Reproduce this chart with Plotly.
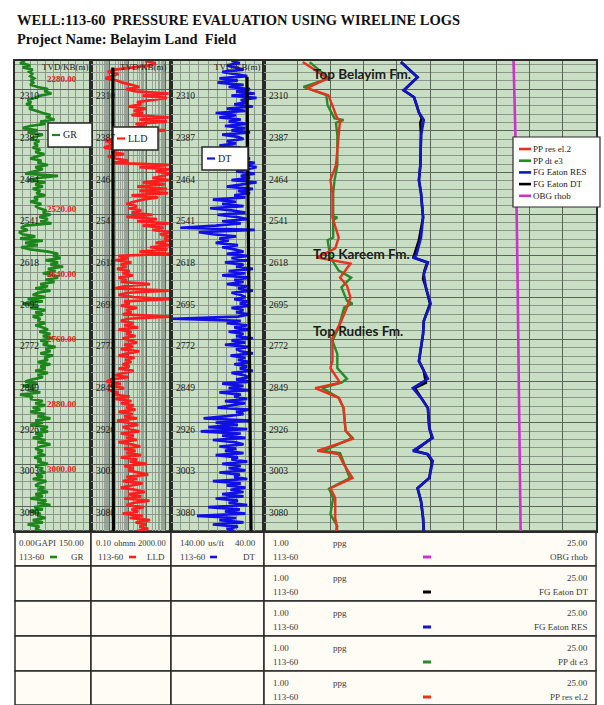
import numpy as np
import plotly.graph_objects as go

# ---------------- data ----------------
TOP, BASE = 2258.0, 3126.0
depth_labels = [2310, 2387, 2464, 2541, 2618, 2695, 2772, 2849, 2926, 3003, 3080]
tvd_marks = [2280, 2520, 2640, 2760, 2880, 3000]

# log samples every 4 m from 2258 m
log_depth = np.arange(218) * 4.0 + TOP

gr = [20, 10, 30, 15, 35, 28, 34, 30, 38, 32,
      36, 30, 45, 65, 58, 72, 50, 40, 25, 32,
      22, 35, 28, 40, 55, 70, 62, 78, 50, 60,
      30, 15, 45, 25, 55, 40, 30, 48, 38, 45,
      35, 50, 40, 58, 42, 30, 52, 45, 65, 40,
      55, 35, 20, 85, 45, 25, 60, 40, 55, 35,
      50, 42, 60, 38, 45, 30, 52, 40, 48, 62,
      55, 70, 48, 65, 50, 72, 20, 12, 25, 8,
      15, 40, 10, 55, 20, 45, 12, 30, 65, 85,
      75, 90, 60, 85, 70, 95, 65, 80, 55, 75,
      85, 60, 78, 50, 65, 40, 70, 45, 35, 60,
      25, 55, 15, 45, 30, 60, 40, 55, 35, 50,
      45, 60, 40, 55, 65, 48, 70, 55, 75, 50,
      65, 55, 80, 60, 70, 50, 75, 58, 65, 45,
      70, 50, 60, 40, 65, 45, 55, 35, 20, 45,
      15, 40, 25, 50, 10, 35, 30, 55, 40, 60,
      35, 50, 30, 60, 45, 70, 40, 55, 30, 65,
      50, 65, 40, 55, 35, 60, 45, 70, 50, 40,
      55, 45, 60, 38, 52, 45, 65, 40, 55, 48,
      60, 42, 55, 35, 62, 48, 40, 58, 45, 65,
      40, 55, 30, 62, 45, 70, 38, 55, 28, 50,
      45, 60, 35, 55, 25, 48, 40, 52]

lld = [80, 300, 150, 20, 2, 0.8, 3, 1.2, 0.6, 2.5,
       5, 15, 40, 8, 25, 1500, 60, 1200, 200, 30,
       50, 10, 90, 20, 60, 15, 1500, 40, 1200, 25,
       80, 12, 1000, 30, 8, 4, 1.5, 0.6, 2.5, 1,
       0.5, 3, 1.2, 6, 0.8, 2, 10, 1.5, 1500, 40,
       1600, 300, 1800, 800, 200, 1500, 60, 900, 30, 1200,
       40, 1400, 15, 400, 60, 20, 8, 30, 10, 50,
       15, 200, 8, 350, 30, 1500, 60, 800, 200, 1700,
       500, 1800, 900, 1600, 300, 1700, 150, 1300, 40, 1600,
       3, 10, 2, 15, 4, 8, 2.5, 12, 5, 18,
       3, 8, 4, 150, 6, 2, 1500, 10, 3, 20,
       1700, 6, 12, 4, 30, 8, 15, 5, 1800, 10,
       4, 20, 6, 35, 3, 15, 8, 25, 5, 12,
       30, 6, 18, 4, 40, 10, 3, 22, 7, 15,
       5, 12, 3, 20, 6, 2, 10, 1.2, 0.7, 4,
       1, 6, 0.8, 3, 1.5, 12, 2, 15, 4, 20,
       8, 25, 3, 18, 6, 30, 2.5, 10, 35, 5,
       12, 40, 4, 20, 8, 30, 3, 15, 45, 6,
       25, 8, 50, 4, 30, 12, 100, 6, 20, 10,
       40, 120, 8, 30, 5, 60, 15, 4, 25, 80,
       10, 50, 6, 140, 20, 8, 70, 15, 35, 5,
       60, 12, 150, 25, 90, 40, 120, 30]

dt = [75, 66, 80, 70, 62, 85, 72, 58, 88, 68,
      90, 62, 78, 55, 70, 50, 75, 48, 65, 58,
      72, 52, 80, 60, 92, 70, 88, 65, 78, 58,
      82, 60, 75, 55, 85, 68, 62, 80, 70, 88,
      65, 78, 60, 85, 72, 55, 68, 50, 62, 48,
      58, 70, 50, 65, 55, 75, 48, 62, 80, 52,
      68, 55, 72, 60, 95, 70, 85, 62, 98, 75,
      60, 90, 70, 58, 85, 65, 92, 130, 50, 110,
      95, 70, 88, 78, 92, 68, 85, 72, 62, 80,
      58, 75, 55, 82, 62, 70, 52, 78, 60, 85,
      55, 72, 62, 80, 58, 68, 52, 75, 65, 60,
      72, 58, 66, 55, 75, 62, 70, 56, 68, 138,
      65, 80, 58, 72, 55, 78, 62, 70, 52, 75,
      60, 82, 57, 70, 65, 52, 76, 60, 68, 55,
      72, 58, 66, 52, 75, 62, 56, 70, 54, 85,
      62, 78, 55, 88, 65, 72, 58, 82, 60, 75,
      90, 56, 70, 62, 80, 105, 55, 92, 68, 100,
      58, 108, 65, 85, 60, 95, 72, 62, 88, 70,
      82, 62, 92, 68, 75, 58, 85, 65, 78, 60,
      88, 66, 72, 58, 95, 65, 80, 60, 76, 62,
      85, 62, 92, 68, 78, 58, 100, 66, 82, 60,
      112, 70, 88, 62, 95, 68, 80, 72]

# normal compaction trends
nct_lld_depth = [2270, 3126]
nct_lld = [1.5, 1.6]
nct_dt_depth = [2287, 3126]
nct_dt = [58.3, 54.0]

# pressure profiles (ppg)
pp_res_depth = [2260, 2290, 2308, 2321, 2364, 2367, 2395, 2451, 2478, 2502, 2547, 2584, 2604,
                2621, 2632, 2658, 2673, 2695, 2719, 2743, 2769, 2812, 2825, 2852, 2862, 2880,
                2899, 2941, 2956, 2978, 2984, 3002, 3028, 3047, 3065, 3102, 3126]
pp_res = [3.8, 5.6, 4.1, 5.65, 6.3, 6.5, 6.4, 6.2, 5.8, 5.95, 5.95, 6.4, 6.15,
          4.85, 7.25, 6.5, 7.0, 7.25, 6.9, 6.5, 5.95, 5.95, 5.8, 6.5, 4.7, 6.4,
          6.75, 6.9, 7.4, 4.85, 6.4, 6.75, 7.4, 5.8, 6.15, 6.15, 6.3]

pp_dt_depth = [2260, 2290, 2306, 2321, 2340, 2364, 2367, 2372, 2395, 2451, 2478, 2502, 2545,
               2547, 2552, 2584, 2589, 2621, 2645, 2658, 2676, 2701, 2706, 2713, 2750, 2775,
               2799, 2825, 2845, 2852, 2862, 2880, 2899, 2941, 2954, 2978, 2982, 3002, 3028,
               3048, 3065, 3095, 3117, 3126]
pp_dt = [4.3, 5.7, 3.85, 5.5, 5.6, 6.1, 6.75, 6.2, 6.3, 6.3, 6.1, 6.0, 6.0,
         6.3, 6.0, 6.0, 5.6, 5.8, 6.4, 7.3, 6.6, 7.0, 7.4, 6.8, 6.4, 5.95,
         6.3, 6.3, 7.0, 6.6, 5.2, 6.4, 6.75, 6.9, 7.4, 5.3, 6.5, 6.8, 7.2,
         5.7, 6.0, 5.8, 6.3, 6.2]

fg_res_depth = [2260, 2288, 2312, 2325, 2353, 2367, 2395, 2451, 2478, 2502, 2547, 2584, 2617,
                2621, 2630, 2651, 2676, 2706, 2738, 2762, 2812, 2830, 2845, 2862, 2880, 2899,
                2936, 2954, 2978, 2984, 2997, 3028, 3047, 3071, 3102, 3126]
fg_res = [10.9, 12.1, 11.1, 11.85, 12.2, 12.55, 12.35, 12.3, 12.2, 12.35, 12.5, 12.35, 12.0,
          11.76, 12.85, 12.55, 12.7, 13.05, 12.55, 12.5, 12.2, 12.55, 12.85, 11.76, 12.35, 12.85,
          12.95, 13.2, 11.76, 12.85, 13.2, 12.95, 12.1, 12.35, 12.5, 12.55]

fg_dt_depth = [2260, 2288, 2312, 2325, 2353, 2364, 2372, 2395, 2451, 2478, 2502, 2547, 2589,
               2612, 2621, 2630, 2645, 2660, 2676, 2706, 2738, 2762, 2812, 2830, 2852, 2862,
               2880, 2899, 2936, 2954, 2978, 2984, 2997, 3028, 3047, 3071, 3102, 3126]
fg_dt = [10.9, 12.1, 11.1, 11.85, 12.2, 12.4, 12.3, 12.35, 12.3, 12.2, 12.35, 12.5, 12.2,
         11.9, 11.8, 12.8, 12.6, 12.5, 12.7, 13.0, 12.55, 12.5, 12.2, 12.55, 12.7, 11.9,
         12.35, 12.85, 12.95, 13.15, 11.9, 12.8, 13.15, 12.95, 12.1, 12.35, 12.5, 12.55]

obg_depth = [2258, 2400, 2600, 2800, 3000, 3126]
obg = [19.04, 19.18, 19.3, 19.4, 19.47, 19.55]

tops = [("Top Belayim Fm.", 2282), ("Top Kareem Fm.", 2614), ("Top Rudies Fm.", 2757)]

# ---------------- layout helpers ----------------
W, H = 604, 705
def px(x):
    return x / W
def py(y):
    return 1 - y / H

tracks = [15, 91, 171, 264, 596]
PLOT_TOP, PLOT_BOT = 61, 531
ydom = [py(PLOT_BOT), py(PLOT_TOP)]

GREEN_BG = "#c9dfc4"
GRID_MAJ = "#5a625a"
GRID_MIN = "#8c978b"
SERIF = "Liberation Serif"

C_GR, C_LLD, C_DT = "#1c851c", "#ff1e1e", "#1010e6"
C_PPR, C_PPD, C_FGR, C_FGD, C_OBG = "#e8321e", "#2a8a2a", "#1414c8", "black", "#cc33cc"

fig = go.Figure()

def curve(x, y, color, width, xa, ya):
    fig.add_trace(go.Scatter(x=x, y=y, mode="lines", line=dict(color=color, width=width),
                             xaxis=xa, yaxis=ya, showlegend=False, hoverinfo="skip"))

curve(gr, log_depth, C_GR, 2.7, "x", "y")
curve(lld, log_depth, C_LLD, 2.7, "x2", "y2")
curve(nct_lld, nct_lld_depth, "black", 3.2, "x2", "y2")
curve(dt, log_depth, C_DT, 2.7, "x3", "y3")
curve(nct_dt, nct_dt_depth, "black", 3.2, "x3", "y3")
curve(obg, obg_depth, C_OBG, 2.6, "x4", "y4")
curve(fg_dt, fg_dt_depth, C_FGD, 2.6, "x4", "y4")
curve(fg_res, fg_res_depth, C_FGR, 2.6, "x4", "y4")
curve(pp_dt, pp_dt_depth, C_PPD, 2.4, "x4", "y4")
curve(pp_res, pp_res_depth, C_PPR, 2.4, "x4", "y4")

axis_common = dict(showline=True, mirror=True, linecolor="#2a2a2a", linewidth=1.5,
                   showticklabels=False, ticks="", zeroline=False, fixedrange=True)

def yaxis_cfg(anchor):
    return dict(domain=ydom, range=[BASE, TOP], anchor=anchor, tick0=2310, dtick=77,
                showgrid=True, gridcolor=GRID_MAJ, gridwidth=1.1,
                minor=dict(tick0=2310, dtick=15.4, showgrid=True, gridcolor=GRID_MIN, gridwidth=0.8),
                **axis_common)

layout = dict(
    width=W, height=H, margin=dict(l=0, r=0, t=0, b=0),
    paper_bgcolor="white", plot_bgcolor=GREEN_BG,
    xaxis=dict(domain=[px(tracks[0]), px(tracks[1])], range=[0, 150], dtick=15, anchor="y",
               showgrid=True, gridcolor=GRID_MIN, gridwidth=0.9, **axis_common),
    xaxis2=dict(domain=[px(tracks[1]), px(tracks[2])], type="log", range=[-1, np.log10(2000)], dtick=1,
                anchor="y2", showgrid=True, gridcolor=GRID_MAJ, gridwidth=1,
                minor=dict(dtick="D1", showgrid=True, gridcolor="#9aa39a", gridwidth=0.8), **axis_common),
    xaxis3=dict(domain=[px(tracks[2]), px(tracks[3])], range=[140, 40], dtick=10, anchor="y3",
                showgrid=True, gridcolor=GRID_MIN, gridwidth=0.9, **axis_common),
    xaxis4=dict(domain=[px(tracks[3]), px(tracks[4])], range=[1, 25], tick0=1, dtick=2.4, anchor="y4",
                showgrid=True, gridcolor=GRID_MAJ, gridwidth=1, **axis_common),
    yaxis=yaxis_cfg("x"), yaxis2=yaxis_cfg("x2"), yaxis3=yaxis_cfg("x3"), yaxis4=yaxis_cfg("x4"),
)
fig.update_layout(**layout)

ann = []
shapes = []

def text(x, y, s, size=9, color="#222", anchor="left", family=SERIF, yref="paper", yshift=0, bold=False):
    if bold:
        s = "<b>" + s + "</b>"
    ann.append(dict(x=x, y=y, xref="paper", yref=yref, text=s, showarrow=False, xanchor=anchor,
                    yanchor="middle", yshift=yshift, font=dict(family=family, size=size, color=color)))

def seg(x0, x1, y, color, width=3):
    shapes.append(dict(type="line", xref="paper", yref="paper", x0=px(x0), x1=px(x1), y0=py(y), y1=py(y),
                       line=dict(color=color, width=width), layer="above"))

def rect(x0, y0, x1, y1, fill, lw=1.5, layer="above"):
    shapes.append(dict(type="rect", xref="paper", yref="paper", x0=px(x0), x1=px(x1), y0=py(y1), y1=py(y0),
                       fillcolor=fill, line=dict(color="#2a2a2a", width=lw), layer=layer))

# title
text(px(15), py(20), "WELL:113-60  PRESSURE EVALUATION USING WIRELINE LOGS", size=14.5, color="#111", bold=True)
text(px(15), py(39), "Project Name: Belayim Land  Field", size=14.5, color="#111", bold=True)

# track headers
for cx in (65, 143, 237):
    text(px(cx), py(67), "TVD/KB(m)", size=9, color="#222", anchor="center")

# depth labels inside each track
yrefs = ["y", "y2", "y3", "y4"]
for k in range(4):
    for d in depth_labels:
        text(px(tracks[k] + 3), d, str(d), size=9.5, color="#1a1a1a", yref=yrefs[k], yshift=-7)

# measured-depth marks in GR track
for d in tvd_marks:
    text(px(62), d, "%.2f" % d, size=9, color="#e02020", anchor="center", yref="y", yshift=-6, bold=True)

# formation tops
for name, d in tops:
    text(px(311), d, name, size=13.5, color="#1c1c1c", family="Lato", yref="y4", bold=True)

# small curve legends
def small_legend(x0, y0, x1, y1, color, label, dx0, dx1):
    rect(x0, y0, x1, y1, "white")
    ym = (y0 + y1) / 2
    seg(dx0, dx1, ym, color, 2.2)
    text(px(dx1 + 1), py(ym), label, size=10, color="#222")

small_legend(48, 123, 92, 147, C_GR, "GR", 52, 60)
small_legend(113, 127, 158, 150, C_LLD, "LLD", 117, 125)
small_legend(202, 147, 248, 170, C_FGR, "DT", 207, 215)

# pressure legend
legend_items = [(C_PPR, "PP res el.2"), (C_PPD, "PP dt e3"), (C_FGR, "FG Eaton RES"),
                (C_FGD, "FG Eaton DT"), (C_OBG, "OBG rhob")]
rect(513, 137, 600, 207, "white", lw=1.2)
for j, (c, n) in enumerate(legend_items):
    yy = 149 + j * 11.7
    seg(519, 531, yy, c, 2.6)
    text(px(531), py(yy), n, size=9, color="#222")

# footer table
rows = [531, 566, 601, 636, 671, 705]
for r in range(5):
    for c in range(4):
        rect(tracks[c], rows[r], tracks[c + 1], rows[r + 1], "#fefcf4", lw=1.5, layer="below")

FC = "#3a3a3a"
r0 = rows[0]
# GR
text(px(17), py(r0 + 12), "0.00", color=FC)
text(px(45), py(r0 + 12), "GAPI", color=FC, anchor="center")
text(px(86), py(r0 + 12), "150.00", color=FC, anchor="right")
text(px(17), py(r0 + 26), "113-60", color=FC)
seg(50, 57, r0 + 26, C_GR, 2.6)
text(px(86), py(r0 + 26), "GR", color=FC, anchor="right")
# LLD
text(px(94), py(r0 + 12), "0.10", color=FC, size=8.5)
text(px(124.5), py(r0 + 12), "ohmm", color=FC, anchor="center", size=8.5)
text(px(168), py(r0 + 12), "2000.00", color=FC, anchor="right", size=8.5)
text(px(96), py(r0 + 26), "113-60", color=FC)
seg(129, 136, r0 + 26, C_LLD, 2.6)
text(px(167), py(r0 + 26), "LLD", color=FC, anchor="right")
# DT
text(px(178), py(r0 + 12), "140.00", color=FC)
text(px(216), py(r0 + 12), "us/ft", color=FC, anchor="center")
text(px(258), py(r0 + 12), "40.00", color=FC, anchor="right")
text(px(178), py(r0 + 26), "113-60", color=FC)
seg(210, 217, r0 + 26, C_DT, 2.6)
text(px(258), py(r0 + 26), "DT", color=FC, anchor="right")

footer_curves = [("OBG rhob", C_OBG), ("FG Eaton DT", C_FGD), ("FG Eaton RES", C_FGR),
                 ("PP dt e3", C_PPD), ("PP res el.2", C_PPR)]
for r, (name, col) in enumerate(footer_curves):
    t = rows[r]
    text(px(271), py(t + 12), "1.00", color=FC)
    text(px(340), py(t + 12), "ppg", color=FC, anchor="center")
    text(px(590), py(t + 12), "25.00", color=FC, anchor="right")
    text(px(271), py(t + 26), "113-60", color=FC)
    seg(423, 431, t + 26, col, 3)
    text(px(590), py(t + 26), name, color=FC, anchor="right")

fig.update_layout(annotations=ann, shapes=shapes)
fig.write_html("out.html")
